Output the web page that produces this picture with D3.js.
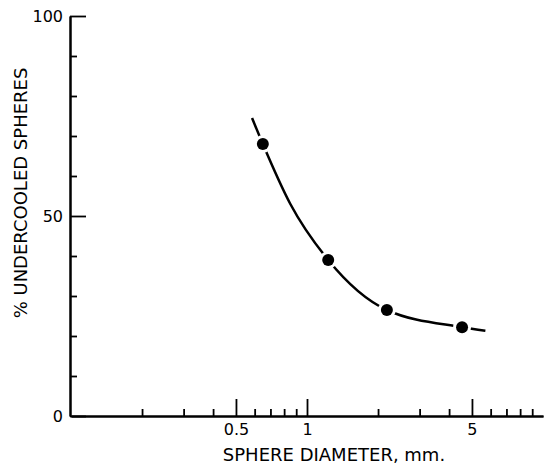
<!DOCTYPE html>
<html>
<head>
<meta charset="utf-8">
<script src="https://cdn.jsdelivr.net/npm/d3@7"></script>
<style>
  body { margin: 0; background: #fff; }
  text { font-family: "DejaVu Sans", sans-serif; fill: #000; }
</style>
</head>
<body>
<div id="chart"></div>
<script>
// measured points (sphere diameter mm, % undercooled)
var diameters = [0.65, 1.23, 2.18, 4.54];
var undercooled = [68, 39, 26.5, 22.2];

// hand drawn curve through the points
var curveX = [0.585, 0.65, 0.85, 1.23, 2.18, 4.54, 5.7];
var curveY = [74.5, 68, 53, 39, 26.5, 22.2, 21.3];

var xMajor = [0.5, 1, 5];
var xMinor = [0.2, 0.3, 0.4, 0.6, 0.7, 0.8, 0.9, 2, 3, 4, 6, 7, 8, 9];
var yMajor = [0, 50, 100];
var yMinor = [10, 20, 30, 40, 60, 70, 80, 90];

var svgWidth = 544, svgHeight = 467;

var svg = d3.select("#chart")
    .append("svg")
    .attr("width", svgWidth)
    .attr("height", svgHeight);

var xScale = d3.scaleLog()
    .domain([0.1, 10])
    .range([71, 543]);
var yScale = d3.scaleLinear()
    .domain([0, 100])
    .range([416, 16]);

//x axis - minor then major ticks, drawn inward
var xMinorAxis = d3.axisBottom(xScale)
    .tickValues(xMinor)
    .tickSizeInner(-7)
    .tickSizeOuter(0)
    .tickFormat("");
var xMajorAxis = d3.axisBottom(xScale)
    .tickValues(xMajor)
    .tickSizeInner(-17)
    .tickSizeOuter(0)
    .tickPadding(8)
    .tickFormat(d3.format("~g"));

var gx = svg.append("g").attr("transform", "translate(0,416)");
gx.call(xMinorAxis);
gx.append("g").call(xMajorAxis);
gx.selectAll("path.domain").attr("stroke-width", 2);
gx.selectAll(".tick line").attr("stroke-width", 1.8);
gx.selectAll(".tick text").attr("font-size", 16);

var yMinorAxis = d3.axisLeft(yScale)
    .tickValues(yMinor)
    .tickSizeInner(-7)
    .tickSizeOuter(0)
    .tickFormat("");
var yMajorAxis = d3.axisLeft(yScale)
    .tickValues(yMajor)
    .tickSizeInner(-16)
    .tickSizeOuter(0)
    .tickPadding(7);

var gy = svg.append("g").attr("transform", "translate(70,0)");
gy.call(yMinorAxis);
gy.append("g").call(yMajorAxis);
gy.selectAll("path.domain").attr("stroke-width", 2);
gy.selectAll(".tick line").attr("stroke-width", 1.8);
gy.selectAll(".tick text").attr("font-size", 16);

//axis titles
svg.append("text")
    .attr("x", 334)
    .attr("y", 461)
    .attr("text-anchor", "middle")
    .attr("font-size", 18)
    .text("SPHERE DIAMETER, mm.");

svg.append("text")
    .attr("transform", "translate(27,193) rotate(-90)")
    .attr("text-anchor", "middle")
    .attr("font-size", 18)
    .text("% UNDERCOOLED SPHERES");

//curve
var curveData = curveX.map(function(d, i) { return {x: d, y: curveY[i]}; });
var line = d3.line()
    .x(function(d) { return xScale(d.x); })
    .y(function(d) { return yScale(d.y); })
    .curve(d3.curveMonotoneX);

svg.append("path")
    .datum(curveData)
    .attr("d", line)
    .attr("fill", "none")
    .attr("stroke", "#000")
    .attr("stroke-width", 2.5);

//points with white ring so the curve breaks around them
var pts = diameters.map(function(d, i) { return {x: d, y: undercooled[i]}; });
svg.selectAll("circle")
    .data(pts)
    .enter()
    .append("circle")
    .attr("cx", function(d) { return xScale(d.x); })
    .attr("cy", function(d) { return yScale(d.y); })
    .attr("r", 6)
    .attr("fill", "#000")
    .attr("stroke", "#fff")
    .attr("stroke-width", 6)
    .attr("paint-order", "stroke");
</script>
</body>
</html>
